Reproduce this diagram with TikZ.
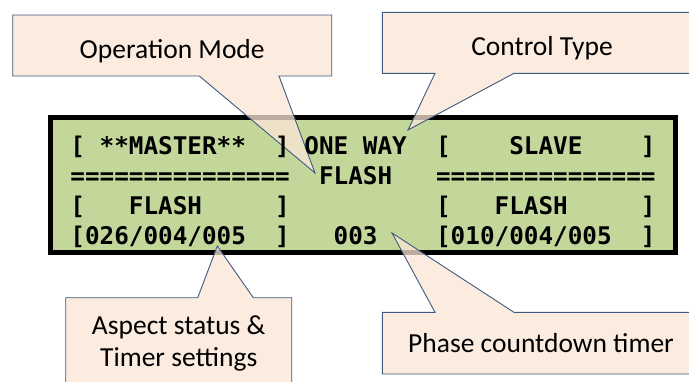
\documentclass[tikz,border=0pt]{standalone}
\usepackage{fontspec}
\newfontfamily\notefont{Carlito}
\newfontfamily\lcdfont{DejaVu Sans Mono}
\definecolor{Lcd}{HTML}{C4D79B}
\definecolor{Peach}{HTML}{FBE5D6}
\definecolor{Edge}{HTML}{3E5A80}

\begin{document}
\begin{tikzpicture}[x=1pt,y=-1pt,
    note/.style={draw=Edge,line width=0.9pt,fill=Peach,fill opacity=0.75,line join=miter},
    label/.style={font=\notefont\fontsize{27.5}{32}\selectfont,align=center,inner sep=0pt},
    lcd/.style={font=\lcdfont\bfseries\fontsize{24.3}{29}\selectfont,anchor=base,inner sep=0pt}]
  \useasboundingbox (0,0) rectangle (689,381);
  \clip (0,0) rectangle (689,381);
  \node[draw,line width=5pt,fill=Lcd,minimum width=624.7pt,minimum height=135.5pt,inner sep=0pt] (panel) at (363.15,184.75) {};
  \coordinate (tipmode) at (315,173);
  \coordinate (tiptype) at (408,130);
  \coordinate (tipaspect) at (217.3,246);
  \coordinate (tipphase) at (392,233);
  \draw[note] (12.7,15) -- (331.7,15) -- (331.7,76) -- (279,76) -- (tipmode) -- (199.3,76) -- (12.7,76) -- cycle;
  \draw[note] (382.3,12.3) -- (702,12.3) -- (702,73.3) -- (514,73.3) -- (tiptype) -- (435,73.3) -- (382.3,73.3) -- cycle;
  \draw[note] (65.7,297.7) -- (197.7,297.7) -- (tipaspect) -- (253.3,297.7) -- (291.7,297.7) -- (291.7,400) -- (65.7,400) -- cycle;
  \draw[note] (382.3,312.3) -- (435,312.3) -- (tipphase) -- (514,312.3) -- (702,312.3) -- (702,374) -- (382.3,374) -- cycle;
  \node[label,anchor=base] (mode) at (172.2,58) {Operation Mode};
  \node[label,anchor=base] (type) at (542,55) {Control Type};
  \node[label] (aspect) at (178.7,343) {Aspect status \&\\Timer settings};
  \node[label,anchor=base] (phase) at (541,352) {Phase countdown timer};
  \foreach \txt [count=\i from 0] in {
      {[~**MASTER**~~]~ONE~WAY~~[~~~~SLAVE~~~~]},
      {===============~~FLASH~~~===============},
      {[~~~FLASH~~~~~]~~~~~~~~~~[~~~FLASH~~~~~]},
      {[026/004/005~~]~~~003~~~~[010/004/005~~]}}
    \node[lcd] (row\i) at (363,{154.5+30*\i}) {\txt};
\end{tikzpicture}
\end{document}
